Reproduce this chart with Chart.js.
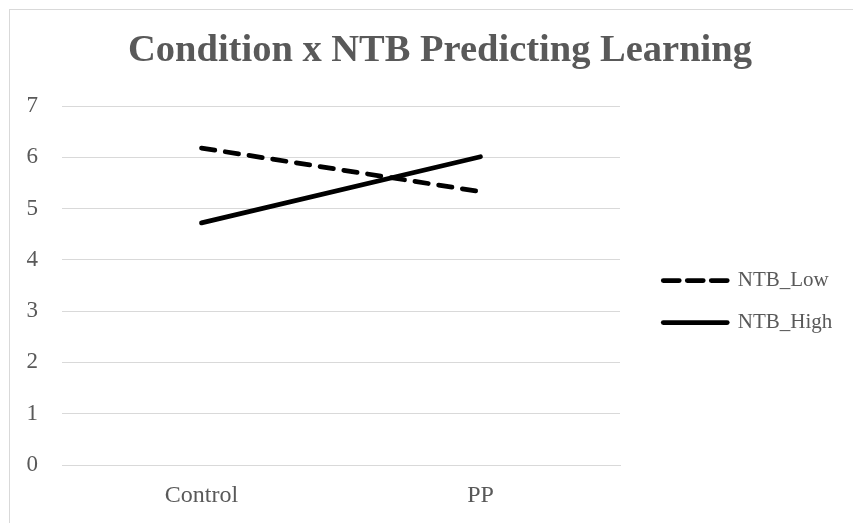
<!DOCTYPE html>
<html>
<head>
<meta charset="utf-8">
<script src="https://cdn.jsdelivr.net/npm/chart.js@4"></script>
<style>
  html, body { margin: 0; padding: 0; background: #fff; overflow: hidden; }
  body { width: 853px; height: 523px; position: relative; }
  #frame { position: absolute; left: 9px; top: 9px; width: 870px; height: 530px; border: 1px solid #d9d9d9; }
  #wrap { position: absolute; left: 0; top: 0; width: 860px; height: 520px; }
</style>
</head>
<body>
<div id="frame">
  <div id="wrap"><canvas id="chart"></canvas></div>
</div>
<script>
// dados
var categories = ['Control', 'PP'];
var ntbLow = [6.18, 5.33];
var ntbHigh = [4.72, 6.01];
var yMin = 0;
var yMax = 7;
var yStep = 1;

var textColor = '#595959';
var gridColor = '#d9d9d9';
var fontFamily = "'Liberation Serif', 'Times New Roman', serif";

// eixo vazio, só ocupa espaço à direita
function spacer(width, weight) {
    return {
        position: 'right',
        display: true,
        weight: weight,
        grid: { display: false, drawTicks: false },
        border: { display: false },
        ticks: { display: false },
        afterFit: function (scale) { scale.width = width; }
    };
}

document.addEventListener("DOMContentLoaded", function () {
    var ctx = document.getElementById('chart').getContext('2d');
    var chart = new Chart(ctx, {
        type: 'line',
        data: {
            labels: categories,
            datasets: [{
                label: 'NTB_Low',
                data: ntbLow,
                borderColor: '#000',
                backgroundColor: '#000',
                borderWidth: 4.75,
                borderDash: [13.5, 10.5],
                borderCapStyle: 'round',
                pointRadius: 0,
                tension: 0
            }, {
                label: 'NTB_High',
                data: ntbHigh,
                borderColor: '#000',
                backgroundColor: '#000',
                borderWidth: 4.75,
                borderCapStyle: 'round',
                pointRadius: 0,
                tension: 0
            }]
        },
        options: {
            responsive: true,
            maintainAspectRatio: false,
            animation: false,
            layout: {
                padding: { left: 16.5, right: 16.5, top: 0, bottom: 4.2 }
            },
            scales: {
                x: {
                    offset: true,
                    grid: { display: false, drawTicks: false },
                    border: { display: true, color: gridColor, width: 1 },
                    ticks: {
                        color: textColor,
                        padding: 16,
                        font: { family: fontFamily, size: 24 }
                    }
                },
                y: {
                    min: yMin,
                    max: yMax,
                    grid: { color: gridColor, lineWidth: 1, drawTicks: false },
                    border: { display: false },
                    ticks: {
                        stepSize: yStep,
                        color: textColor,
                        padding: 24,
                        font: { family: fontFamily, size: 23 }
                    },
                    afterFit: function (scale) { scale.width = 35.5; }
                },
                gapIn: spacer(22.25, 0),
                gapOut: spacer(21.25, 2000)
            },
            plugins: {
                title: {
                    display: true,
                    text: 'Condition x NTB Predicting Learning',
                    color: textColor,
                    padding: { top: 18, bottom: 31.8 },
                    font: { family: fontFamily, size: 38.5, weight: 'bold', lineHeight: 1.2 }
                },
                legend: {
                    position: 'right',
                    fullSize: false,
                    align: 'center',
                    maxWidth: 190,
                    title: {
                        display: true,
                        text: '',
                        padding: { top: 22, bottom: 0 },
                        font: { size: 10, lineHeight: 1 }
                    },
                    labels: {
                        usePointStyle: true,
                        pointStyle: 'line',
                        pointStyleWidth: 64,
                        padding: 21,
                        color: textColor,
                        font: { family: fontFamily, size: 21 },
                        generateLabels: function (c) {
                            var items = Chart.defaults.plugins.legend.labels.generateLabels(c);
                            items.forEach(function (item, i) {
                                item.lineDash = i === 0 ? [16, 8] : [];
                                item.lineWidth = 4.75;
                                item.lineCap = 'round';
                                item.strokeStyle = '#000';
                            });
                            return items;
                        }
                    }
                },
                tooltip: { enabled: false }
            }
        }
    });
    console.log("Chart Instance:", chart.chartArea);
});
</script>
</body>
</html>
